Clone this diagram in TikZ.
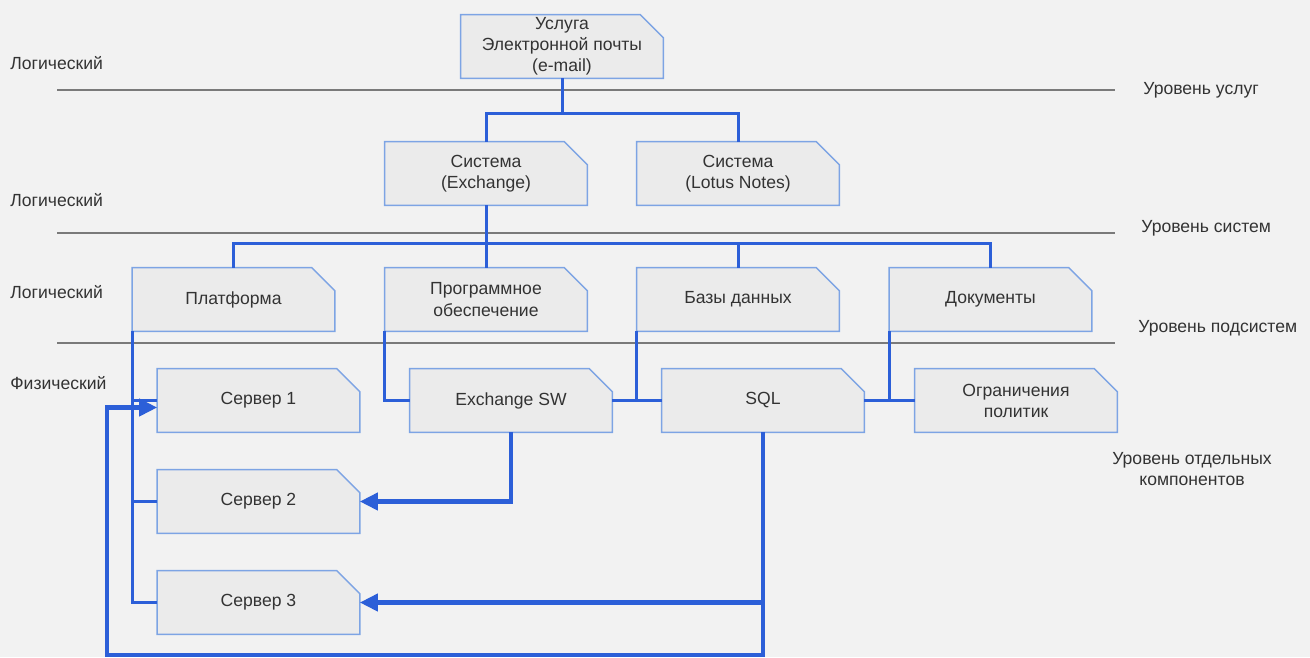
\documentclass[tikz,border=0pt]{standalone}
\usepackage{fontspec}
\setmainfont{Liberation Sans}
\usetikzlibrary{arrows.meta}
\definecolor{bgcol}{HTML}{F2F2F2}
\definecolor{boxfill}{HTML}{EBEBEB}
\definecolor{boxline}{HTML}{7DA4E4}
\definecolor{linkblue}{HTML}{2C5FD8}
\definecolor{txtcol}{HTML}{333333}
\definecolor{divcol}{HTML}{7A7A7A}
\begin{document}
\begin{tikzpicture}[x=0.02cm, y=-0.02cm, font=\fontsize{10}{12}\selectfont, text=txtcol,
    box/.style={rectangle, fill=boxfill, align=center, inner sep=0pt,
      minimum width=4.04cm, minimum height=1.26cm},
    boxedge/.style={draw=boxline, line width=0.8pt},
    link/.style={draw=linkblue, line width=1.7pt},
    arr/.style={draw=linkblue, line width=2.3pt, -{Triangle[length=0.36cm, width=0.34cm]}},
    divider/.style={draw=divcol, line width=1.2pt},
    lbl/.style={anchor=west, inner sep=0pt}]
    \fill[bgcol] (0,0) rectangle (1310,657);
    \useasboundingbox (0,0) rectangle (1310,657);
    \draw[divider] (57,90) -- (1115,90);
    \draw[divider] (57,233) -- (1115,233);
    \draw[divider] (57,343) -- (1115,343);
    \node[lbl] (logic1) at (10,63) {Логический};
    \node[lbl] (logic2) at (10,200) {Логический};
    \node[lbl] (logic3) at (10,292) {Логический};
    \node[lbl] (phys) at (10,383) {Физический};
    \node[lbl] (lvlserv) at (1143,90) {Уровень услуг};
    \node[lbl] (lvlsys) at (1141,228) {Уровень систем};
    \node[lbl] (lvlsub) at (1138,328) {Уровень подсистем};
    \node[align=center, inner sep=0pt] (lvlcomp) at (1192,469) {Уровень отдельных\\компонентов};
    \node[box] (usl) at (562,46.5) {Услуга\\Электронной почты\\(e-mail)};
    \node[box] (exch) at (486,173.5) {Система\\(Exchange)};
    \node[box] (lotus) at (738,173.5) {Система\\(Lotus Notes)};
    \node[box] (plat) at (233.5,299.5) {Платформа};
    \node[box] (prog) at (486,299.5) {Программное\\обеспечение};
    \node[box] (bd) at (738,299.5) {Базы данных};
    \node[box] (doc) at (990.5,299.5) {Документы};
    \node[box] (srv1) at (258.5,400.5) {Сервер 1};
    \node[box] (exsw) at (511,400.5) {Exchange SW};
    \node[box] (sql) at (763,400.5) {SQL};
    \node[box] (ogr) at (1016,400.5) {Ограничения\\политик};
    \node[box] (srv2) at (258.5,501.5) {Сервер 2};
    \node[box] (srv3) at (258.5,602.5) {Сервер 3};
    \foreach \n in {usl,exch,lotus,plat,prog,bd,doc,srv1,exsw,sql,ogr,srv2,srv3} {
      \fill[bgcol] ([xshift=-0.46cm]\n.north east) -- (\n.north east) -- ([yshift=-0.46cm]\n.north east) -- cycle;
      \draw[boxedge] (\n.south west) -- (\n.north west) -- ([xshift=-0.46cm]\n.north east)
        -- ([yshift=-0.46cm]\n.north east) -- (\n.south east) -- cycle;
    }
    \coordinate (loopcorner) at (107,655);
    \draw[link] (usl.south) -- ++(0,35) -| (exch.north);
    \draw[link] (usl.south) ++(0,35) -| (lotus.north);
    \draw[link] (exch.south) -- ++(0,38) -| (plat.north);
    \draw[link] (exch.south) -- (prog.north);
    \draw[link] (exch.south) ++(0,38) -| (bd.north);
    \draw[link] (exch.south) ++(0,38) -| (doc.north);
    \draw[link] (plat.south west) |- (srv1.west);
    \draw[link] (plat.south west) |- (srv2.west);
    \draw[link] (plat.south west) |- (srv3.west);
    \draw[link] (prog.south west) |- (exsw.west);
    \draw[link] (exsw.east) -- (sql.west);
    \draw[link] (bd.south west) -- (bd.south west |- sql.west);
    \draw[link] (sql.east) -- (ogr.west);
    \draw[link] (doc.south west) -- (doc.south west |- ogr.west);
    \draw[arr] (exsw.south) |- (srv2.east);
    \draw[arr] (sql.south) |- (srv3.east);
    \draw[arr] (sql.south) |- (loopcorner) |- ([yshift=-0.14cm]srv1.west);
\end{tikzpicture}
\end{document}
